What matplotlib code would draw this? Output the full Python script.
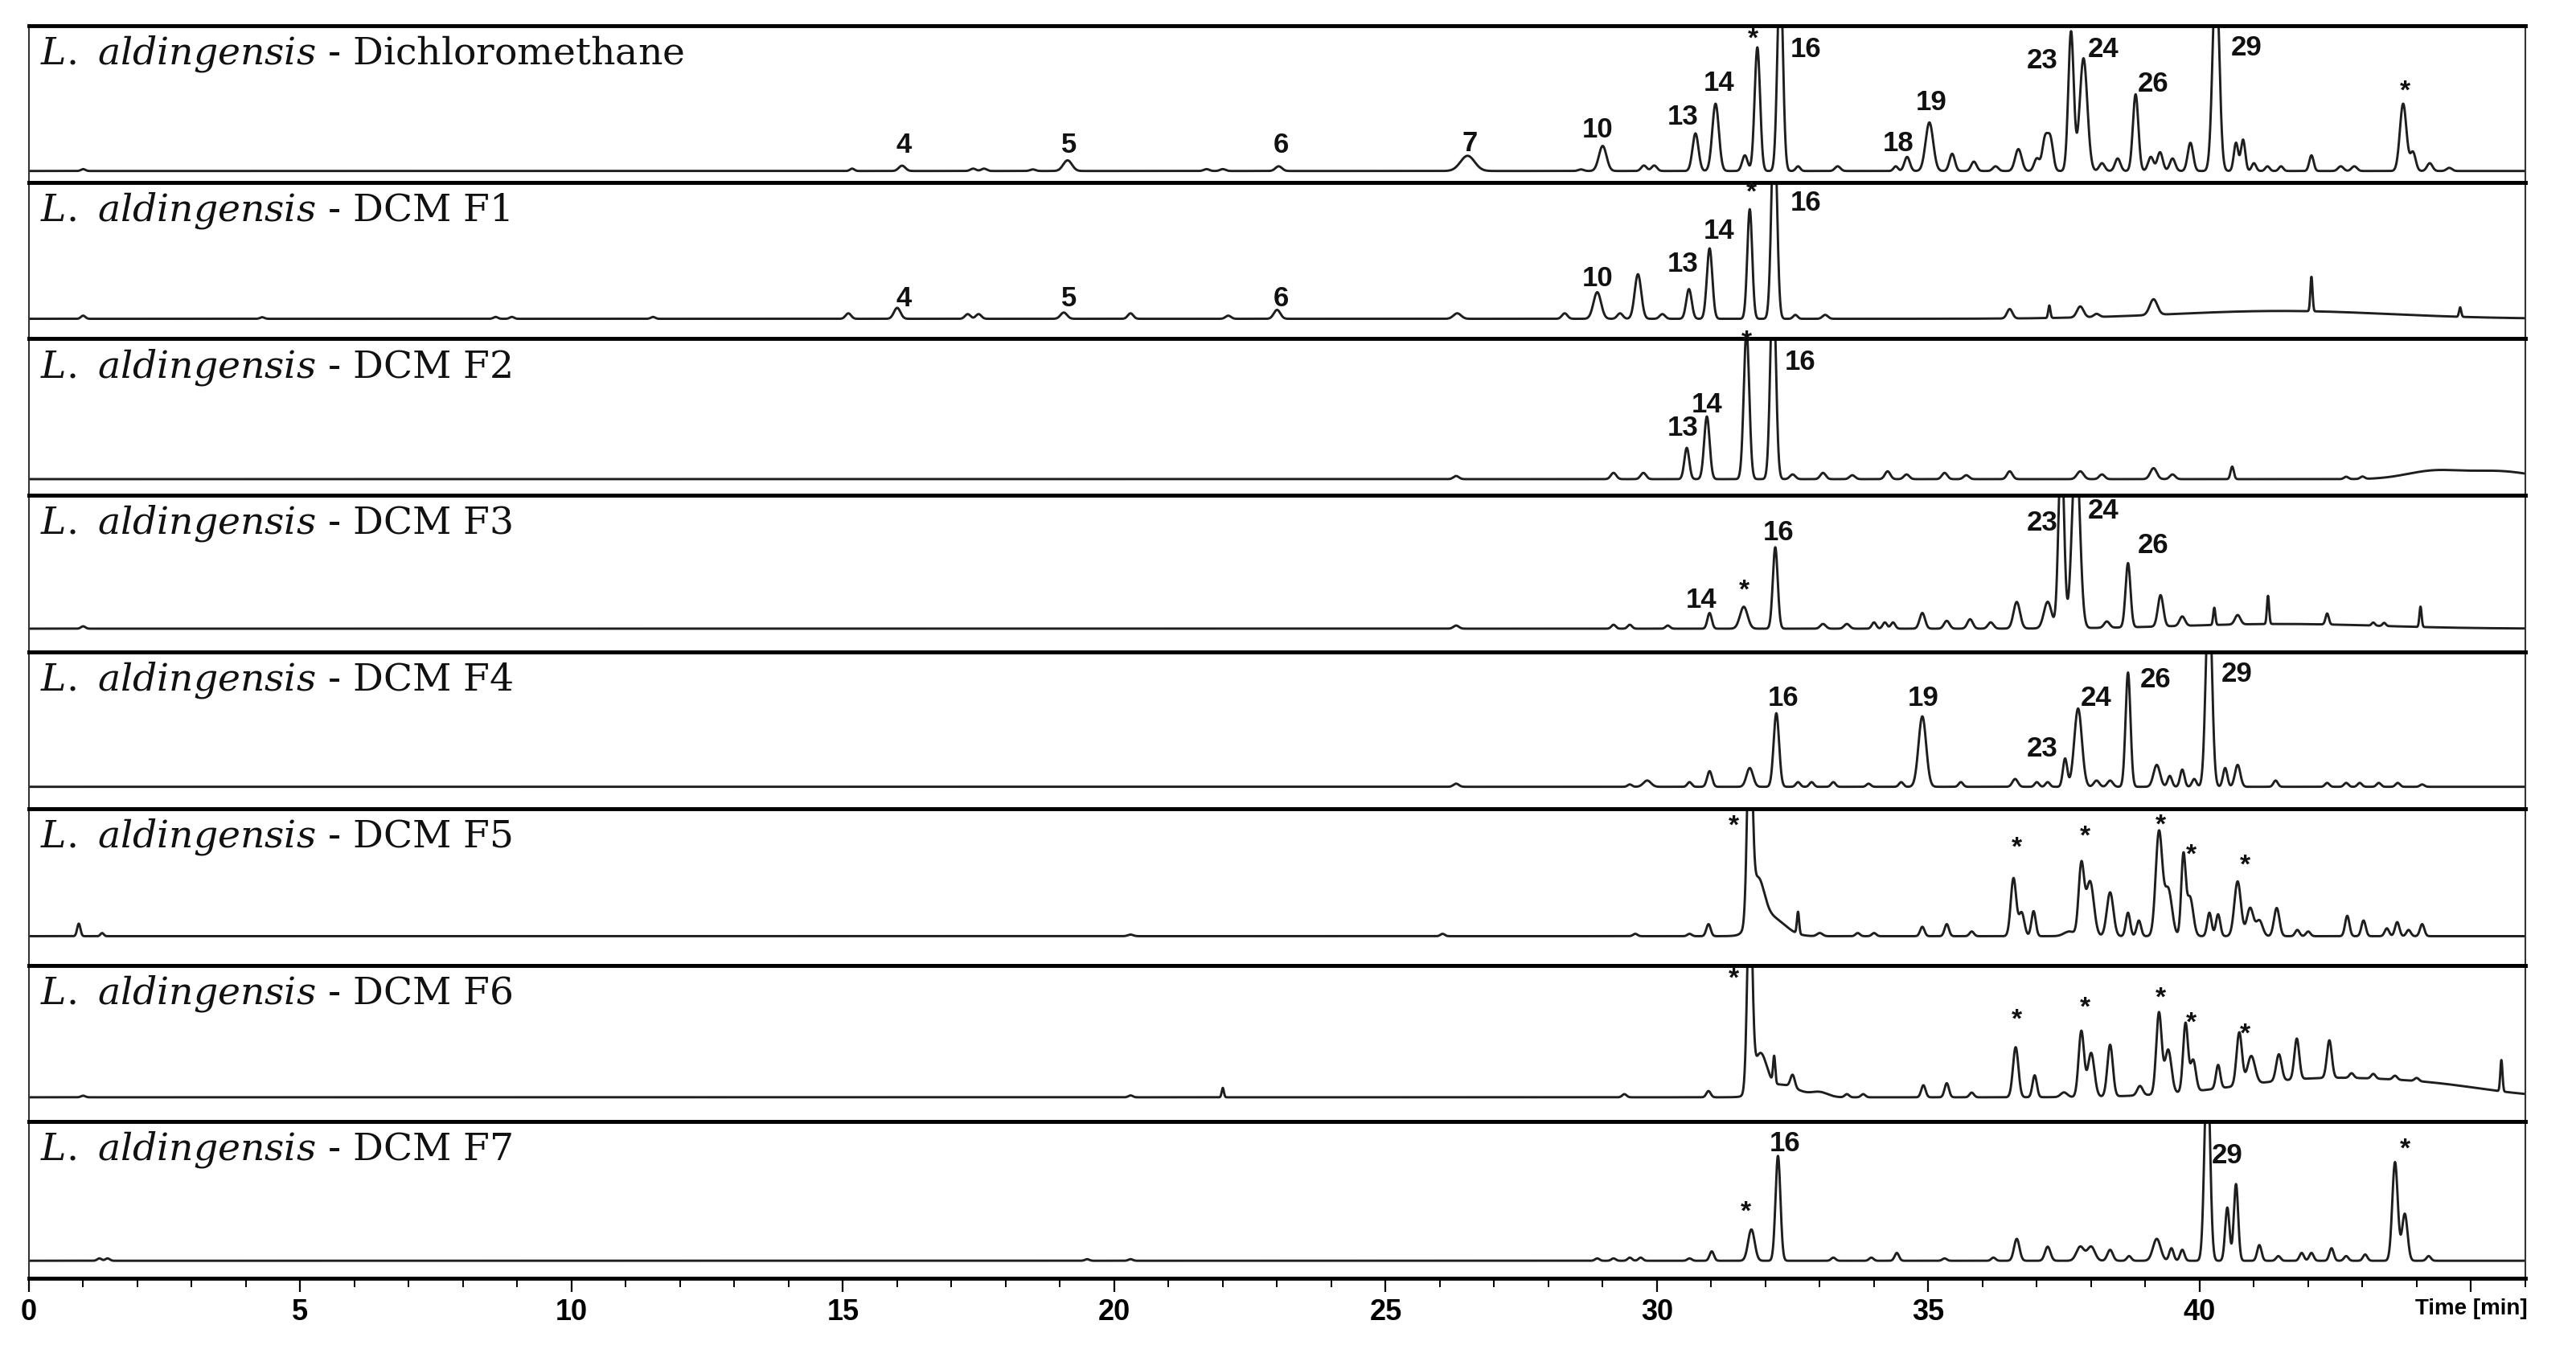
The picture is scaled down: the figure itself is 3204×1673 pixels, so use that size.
import numpy as np
import matplotlib
matplotlib.use("Agg")
import matplotlib.pyplot as plt
from matplotlib.ticker import MultipleLocator

# ── DATA ────────────────────────────────────────────────────
# GC-MS chromatograms, L. aldingensis DCM extract and fractions F1-F7
# peaks: (retention time [min], height [panel fraction], width [min])
panel_names = ["Dichloromethane", "DCM F1", "DCM F2", "DCM F3",
               "DCM F4", "DCM F5", "DCM F6", "DCM F7"]

baselines = [0.072, 0.128, 0.104, 0.149, 0.139, 0.185, 0.156, 0.112]

peaks_dcm = [(1.0, 0.012, 0.04), (15.17, 0.015, 0.04), (16.09, 0.034, 0.06), (17.4, 0.015, 0.05),
             (17.6, 0.015, 0.05), (18.5, 0.01, 0.05), (19.14, 0.068, 0.08), (21.7, 0.012, 0.05),
             (22.0, 0.012, 0.05), (23.03, 0.03, 0.06), (26.51, 0.097, 0.13), (28.6, 0.01, 0.05),
             (29.0, 0.16, 0.07), (29.76, 0.035, 0.05), (29.95, 0.035, 0.05), (30.71, 0.24, 0.055),
             (31.08, 0.43, 0.06), (31.62, 0.1, 0.05), (31.85, 0.79, 0.05), (32.27, 1.3, 0.05),
             (32.6, 0.03, 0.04), (33.33, 0.03, 0.05), (34.4, 0.03, 0.04), (34.61, 0.09, 0.05),
             (35.02, 0.31, 0.07), (35.44, 0.11, 0.05), (35.84, 0.06, 0.05), (36.24, 0.03, 0.05),
             (36.66, 0.14, 0.06), (37.0, 0.08, 0.05), (37.15, 0.2, 0.05), (37.25, 0.2, 0.05),
             (37.63, 0.89, 0.05), (37.86, 0.72, 0.07), (38.2, 0.05, 0.05), (38.49, 0.08, 0.05),
             (38.82, 0.49, 0.05), (39.1, 0.09, 0.05), (39.27, 0.12, 0.05), (39.5, 0.08, 0.05),
             (39.83, 0.18, 0.05), (40.3, 1.3, 0.06), (40.67, 0.18, 0.04), (40.8, 0.2, 0.04),
             (41.0, 0.05, 0.04), (41.25, 0.03, 0.04), (41.5, 0.03, 0.04), (42.06, 0.1, 0.04),
             (42.6, 0.03, 0.05), (42.85, 0.03, 0.05), (43.75, 0.43, 0.06), (43.93, 0.12, 0.05),
             (44.24, 0.05, 0.05), (44.6, 0.02, 0.05)]

peaks_f1 = [(1.0, 0.02, 0.04), (4.3, 0.01, 0.04), (8.6, 0.012, 0.04), (8.9, 0.012, 0.04),
            (11.5, 0.012, 0.04), (15.1, 0.035, 0.05), (16.0, 0.07, 0.06), (17.3, 0.03, 0.05),
            (17.5, 0.03, 0.05), (19.07, 0.04, 0.06), (20.3, 0.035, 0.05), (22.1, 0.02, 0.05),
            (23.0, 0.057, 0.06), (26.32, 0.035, 0.07), (28.3, 0.035, 0.05), (28.9, 0.17, 0.07),
            (29.32, 0.035, 0.05), (29.65, 0.285, 0.06), (30.1, 0.03, 0.05), (30.59, 0.19, 0.05),
            (30.97, 0.45, 0.05), (31.71, 0.70, 0.045), (32.16, 1.3, 0.05), (32.55, 0.025, 0.04),
            (33.1, 0.025, 0.05), (36.5, 0.06, 0.05), (37.23, 0.08, 0.02), (37.8, 0.07, 0.06),
            (38.1, 0.02, 0.05), (39.15, 0.1, 0.07), (41.5, 0.05, 2.0), (42.06, 0.22, 0.02),
            (44.8, 0.06, 0.02)]

peaks_f2 = [(26.3, 0.02, 0.05), (29.2, 0.04, 0.05), (29.75, 0.04, 0.05), (30.55, 0.2, 0.045),
            (30.92, 0.4, 0.05), (31.65, 0.95, 0.05), (32.14, 1.3, 0.05), (32.5, 0.03, 0.05),
            (33.06, 0.04, 0.05), (33.6, 0.025, 0.05), (34.25, 0.05, 0.05), (34.6, 0.03, 0.05),
            (35.3, 0.04, 0.05), (35.7, 0.025, 0.05), (36.5, 0.05, 0.05), (37.8, 0.05, 0.06),
            (38.2, 0.03, 0.05), (39.15, 0.07, 0.06), (39.5, 0.03, 0.05), (40.6, 0.08, 0.03),
            (42.7, 0.015, 0.04), (43.0, 0.015, 0.04), (44.3, 0.05, 0.5), (45.5, 0.05, 0.6)]

peaks_f3 = [(1.0, 0.015, 0.04), (26.3, 0.02, 0.05), (29.2, 0.025, 0.04), (29.5, 0.025, 0.04),
            (30.2, 0.02, 0.04), (30.97, 0.10, 0.04), (31.6, 0.14, 0.07), (32.18, 0.52, 0.045),
            (33.06, 0.03, 0.05), (33.5, 0.03, 0.05), (34.0, 0.04, 0.04), (34.2, 0.04, 0.04),
            (34.35, 0.04, 0.04), (34.89, 0.1, 0.05), (35.34, 0.05, 0.05), (35.77, 0.06, 0.05),
            (36.15, 0.04, 0.05), (36.63, 0.17, 0.06), (37.2, 0.17, 0.07), (37.45, 1.2, 0.05),
            (37.72, 1.2, 0.07), (38.29, 0.04, 0.05), (38.68, 0.41, 0.045), (39.28, 0.2, 0.05),
            (39.68, 0.06, 0.05), (40.27, 0.11, 0.02), (40.7, 0.06, 0.05), (41.26, 0.18, 0.02),
            (42.35, 0.07, 0.03), (43.2, 0.02, 0.03), (43.4, 0.02, 0.03), (44.07, 0.13, 0.02),
            (41.5, 0.03, 1.8)]

peaks_f4 = [(26.3, 0.02, 0.05), (29.5, 0.015, 0.04), (29.82, 0.04, 0.07), (30.6, 0.03, 0.04),
            (30.97, 0.10, 0.045), (31.71, 0.12, 0.06), (32.2, 0.47, 0.05), (32.6, 0.03, 0.04),
            (32.85, 0.03, 0.04), (33.25, 0.03, 0.04), (33.9, 0.02, 0.04), (34.5, 0.03, 0.04),
            (34.89, 0.45, 0.07), (35.6, 0.03, 0.04), (36.6, 0.05, 0.05), (37.0, 0.03, 0.04),
            (37.2, 0.03, 0.04), (37.52, 0.18, 0.04), (37.76, 0.5, 0.07), (38.1, 0.04, 0.05),
            (38.35, 0.04, 0.05), (38.68, 0.73, 0.045), (39.21, 0.14, 0.06), (39.45, 0.07, 0.04),
            (39.68, 0.11, 0.04), (39.9, 0.05, 0.04), (40.17, 1.3, 0.055), (40.47, 0.12, 0.04),
            (40.7, 0.14, 0.05), (41.4, 0.04, 0.04), (42.35, 0.025, 0.04), (42.7, 0.025, 0.04),
            (42.95, 0.025, 0.04), (43.3, 0.025, 0.04), (43.65, 0.025, 0.04), (44.1, 0.015, 0.04)]

peaks_f5 = [(0.92, 0.08, 0.03), (1.35, 0.02, 0.03), (20.3, 0.01, 0.05), (26.05, 0.015, 0.04),
            (29.6, 0.015, 0.04), (30.6, 0.015, 0.04), (30.95, 0.077, 0.04), (31.71, 1.3, 0.045),
            (31.85, 0.3, 0.12), (32.1, 0.12, 0.25), (32.6, 0.14, 0.02), (33.0, 0.02, 0.05),
            (33.7, 0.02, 0.04), (34.0, 0.02, 0.04), (34.89, 0.06, 0.04), (35.34, 0.077, 0.04),
            (35.8, 0.03, 0.04), (36.57, 0.37, 0.05), (36.72, 0.15, 0.05), (36.94, 0.16, 0.04),
            (37.6, 0.03, 0.1), (37.82, 0.45, 0.05), (37.98, 0.35, 0.07), (38.35, 0.28, 0.06),
            (38.68, 0.15, 0.04), (38.88, 0.1, 0.04), (39.25, 0.66, 0.06), (39.42, 0.3, 0.07),
            (39.7, 0.5, 0.04), (39.82, 0.25, 0.06), (40.18, 0.15, 0.04), (40.34, 0.14, 0.04),
            (40.7, 0.35, 0.06), (40.93, 0.18, 0.06), (41.1, 0.1, 0.06), (41.42, 0.18, 0.05),
            (41.8, 0.04, 0.04), (42.0, 0.03, 0.04), (42.72, 0.13, 0.04), (43.02, 0.1, 0.04),
            (43.45, 0.05, 0.04), (43.64, 0.09, 0.04), (43.85, 0.04, 0.04), (44.1, 0.077, 0.04)]

peaks_f6 = [(1.0, 0.01, 0.04), (20.3, 0.012, 0.04), (22.0, 0.06, 0.02), (29.4, 0.02, 0.04),
            (30.95, 0.04, 0.04), (31.71, 1.3, 0.045), (31.9, 0.25, 0.12), (32.16, 0.17, 0.02),
            (32.3, 0.08, 0.3), (32.5, 0.08, 0.04), (33.0, 0.03, 0.15), (33.5, 0.02, 0.04),
            (33.8, 0.02, 0.04), (34.91, 0.077, 0.04), (35.34, 0.09, 0.04), (35.8, 0.03, 0.04),
            (36.61, 0.32, 0.05), (36.96, 0.14, 0.04), (37.5, 0.03, 0.06), (37.82, 0.42, 0.05),
            (38.0, 0.28, 0.06), (38.35, 0.33, 0.05), (38.9, 0.06, 0.05), (39.25, 0.52, 0.05),
            (39.42, 0.28, 0.06), (39.74, 0.44, 0.045), (39.88, 0.2, 0.05), (40.34, 0.15, 0.04),
            (40.73, 0.34, 0.05), (40.95, 0.18, 0.07), (41.46, 0.17, 0.05), (41.79, 0.26, 0.045),
            (42.39, 0.24, 0.045), (42.3, 0.12, 1.6), (44.5, 0.04, 1.0), (42.8, 0.03, 0.04),
            (43.2, 0.03, 0.04), (43.6, 0.025, 0.04), (44.0, 0.02, 0.04), (45.56, 0.2, 0.02)]

peaks_f7 = [(1.3, 0.015, 0.04), (1.45, 0.015, 0.04), (19.5, 0.01, 0.04), (20.3, 0.01, 0.04),
            (28.9, 0.015, 0.04), (29.2, 0.015, 0.04), (29.5, 0.02, 0.04), (29.7, 0.02, 0.04),
            (30.6, 0.015, 0.04), (31.01, 0.06, 0.04), (31.74, 0.2, 0.06), (32.23, 0.67, 0.045),
            (33.25, 0.02, 0.04), (33.95, 0.02, 0.04), (34.42, 0.05, 0.04), (35.3, 0.015, 0.04),
            (36.2, 0.02, 0.04), (36.63, 0.14, 0.05), (37.2, 0.09, 0.05), (37.8, 0.09, 0.07),
            (38.0, 0.09, 0.07), (38.35, 0.07, 0.05), (38.7, 0.03, 0.04), (39.21, 0.14, 0.07),
            (39.48, 0.08, 0.04), (39.68, 0.07, 0.04), (40.14, 1.3, 0.05), (40.51, 0.34, 0.04),
            (40.67, 0.49, 0.04), (41.1, 0.1, 0.04), (41.45, 0.03, 0.04), (41.88, 0.05, 0.04),
            (42.06, 0.05, 0.04), (42.43, 0.08, 0.04), (42.7, 0.03, 0.04), (43.05, 0.04, 0.04),
            (43.6, 0.63, 0.05), (43.78, 0.3, 0.05), (44.22, 0.03, 0.04)]

all_peaks = [peaks_dcm, peaks_f1, peaks_f2, peaks_f3, peaks_f4, peaks_f5, peaks_f6, peaks_f7]

# peak labels: (text, time, height)
labels_dcm = [("4", 16.12, 0.19), ("5", 19.17, 0.19), ("6", 23.08, 0.19), ("7", 26.55, 0.20),
              ("10", 28.9, 0.286), ("13", 30.48, 0.37), ("14", 31.14, 0.584), ("*", 31.77, 0.91),
              ("16", 32.74, 0.80), ("18", 34.45, 0.197), ("19", 35.05, 0.46), ("23", 37.1, 0.73),
              ("24", 38.22, 0.80), ("26", 39.15, 0.58), ("29", 40.87, 0.81), ("*", 43.78, 0.58)]
labels_f1 = [("4", 16.12, 0.21), ("5", 19.17, 0.21), ("6", 23.08, 0.21), ("10", 28.9, 0.335),
             ("13", 30.48, 0.43), ("14", 31.14, 0.64), ("*", 31.74, 0.93), ("16", 32.74, 0.82)]
labels_f2 = [("13", 30.48, 0.38), ("14", 30.92, 0.53), ("*", 31.65, 0.98), ("16", 32.64, 0.80)]
labels_f3 = [("14", 30.81, 0.28), ("*", 31.61, 0.39), ("16", 32.24, 0.716), ("23", 37.1, 0.776),
             ("24", 38.22, 0.85), ("26", 39.15, 0.63)]
labels_f4 = [("16", 32.33, 0.655), ("19", 34.91, 0.655), ("23", 37.1, 0.33), ("24", 38.09, 0.655),
             ("26", 39.19, 0.775), ("29", 40.69, 0.81)]
labels_f5 = [("*", 31.41, 0.883), ("*", 36.63, 0.747), ("*", 37.89, 0.818), ("*", 39.28, 0.891),
             ("*", 39.85, 0.70), ("*", 40.83, 0.633)]
labels_f6 = [("*", 31.41, 0.912), ("*", 36.63, 0.646), ("*", 37.89, 0.723), ("*", 39.28, 0.787),
             ("*", 39.85, 0.629), ("*", 40.83, 0.557)]
labels_f7 = [("*", 31.63, 0.423), ("16", 32.36, 0.81), ("29", 40.51, 0.734), ("*", 43.78, 0.823)]

all_labels = [labels_dcm, labels_f1, labels_f2, labels_f3, labels_f4, labels_f5, labels_f6, labels_f7]

x_ticks = [0, 5, 10, 15, 20, 25, 30, 35, 40, 45]
x_ticklabels = ["0", "5", "10", "15", "20", "25", "30", "35", "40", "Time [min]"]

# ── PLOT ────────────────────────────────────────────────────
plt.rcParams["mathtext.fontset"] = "dejavuserif"
num_font = ["Liberation Sans", "DejaVu Sans"]

t = np.linspace(0, 46, 9201)

fig, axes = plt.subplots(8, 1, figsize=(32.05, 16.73), dpi=100, sharex=True)
fig.subplots_adjust(left=0.0112, right=0.980, top=0.9809, bottom=0.0496, hspace=0)

for i, ax in enumerate(axes):
    y = np.full_like(t, baselines[i])
    for rt, h, w in all_peaks[i]:
        y += h * np.exp(-0.5 * ((t - rt) / w) ** 2)
    ax.plot(t, y, color="#1e1e1e", lw=2.1)

    ax.set_xlim(0, 46)
    ax.set_ylim(0, 1)
    ax.set_yticks([])
    for side in ["top", "bottom"]:
        ax.spines[side].set_linewidth(3.5)
    for side in ["left", "right"]:
        ax.spines[side].set_linewidth(1.5)
        ax.spines[side].set_color("#333333")

    ax.text(0.0045, 0.755,
            r"$\mathit{L.\ aldingensis}$ - " + panel_names[i],
            transform=ax.transAxes, fontsize=34, family="DejaVu Serif",
            ha="left", va="baseline", color="#111111")

    for txt, xt, yt in all_labels[i]:
        if txt == "*":
            ax.text(xt, yt, txt, fontsize=24, fontweight="bold", family=num_font,
                    ha="center", va="center", color="#111111")
        else:
            ax.text(xt, yt, txt, fontsize=25, fontweight="bold", family=num_font,
                    ha="center", va="baseline", color="#111111")

    if i < 7:
        ax.tick_params(axis="x", which="both", bottom=False, labelbottom=False)

ax = axes[-1]
ax.set_xticks(x_ticks)
ax.set_xticklabels(x_ticklabels)
ax.xaxis.set_minor_locator(MultipleLocator(1))
ax.tick_params(axis="x", which="major", length=12, width=1.6, direction="out", pad=6,
               labelsize=26)
ax.tick_params(axis="x", which="minor", length=8, width=1.4, direction="out")
for lab in ax.get_xticklabels():
    lab.set_fontweight("bold")
    lab.set_family(num_font)
ax.get_xticklabels()[-1].set_fontsize(20)

plt.savefig("out.png", dpi=100)
